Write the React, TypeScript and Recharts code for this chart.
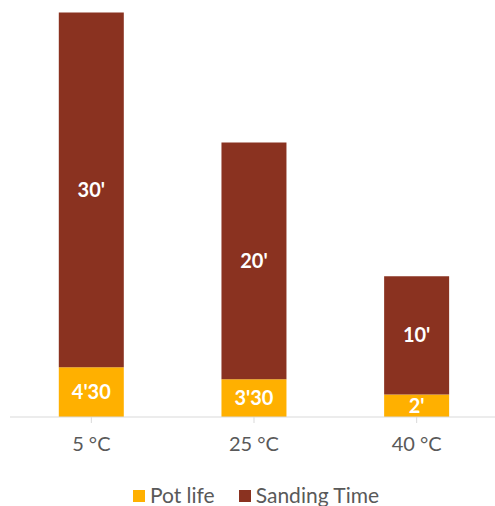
import { BarChart, Bar, XAxis, YAxis, Legend, LabelList } from 'recharts';

const categories = ['5 °C', '25 °C', '40 °C'];
const potLife = [4.2, 3.2, 1.9];
const potLifeLabels = ["4'30", "3'30", "2'"];
const sandingTime = [30, 20, 10];
const sandingLabels = ["30'", "20'", "10'"];

const data = categories.map((name, i) => ({
  name,
  pot: potLife[i],
  potLabel: potLifeLabels[i],
  sanding: sandingTime[i],
  sandingLabel: sandingLabels[i],
}));

const FONT = 'Lato, "Open Sans", sans-serif';
const ORANGE = '#FFB000';
const BROWN = '#8A3220';

const legendItems = [
  { label: 'Pot life', color: ORANGE },
  { label: 'Sanding Time', color: BROWN },
];

function LegendContent() {
  return (
    <div style={{ display: 'flex', justifyContent: 'center', alignItems: 'center', gap: 24, fontFamily: FONT, fontSize: 21, color: '#595959', lineHeight: '22px', paddingLeft: 4 }}>
      {legendItems.map((it) => (
        <div key={it.label} style={{ display: 'flex', alignItems: 'center' }}>
          <span style={{ display: 'inline-block', width: 12, height: 12, background: it.color, marginRight: 5, marginTop: 2 }} />
          <span>{it.label}</span>
        </div>
      ))}
    </div>
  );
}

export default function App() {
  return (
    <div style={{ position: 'absolute', left: 0, top: 0, background: '#fff' }}>
      <BarChart
        width={500}
        height={506}
        data={data}
        margin={{ top: 3, right: 2, left: 10, bottom: 0 }}
        barCategoryGap="30%"
      >
        <XAxis
          dataKey="name"
          height={67}
          stroke="#D9D9D9"
          tickSize={6}
          tickMargin={14}
          tick={{ fill: '#595959', fontSize: 20, fontFamily: FONT }}
        />
        <YAxis hide domain={[0, 35]} />
        <Legend verticalAlign="bottom" height={22} content={<LegendContent />} />
        <Bar dataKey="pot" stackId="a" fill={ORANGE} isAnimationActive={false}>
          <LabelList dataKey="potLabel" position="center" fill="#fff" fontSize={20} fontWeight="bold" fontFamily={FONT} />
        </Bar>
        <Bar dataKey="sanding" stackId="a" fill={BROWN} isAnimationActive={false}>
          <LabelList dataKey="sandingLabel" position="center" fill="#fff" fontSize={20} fontWeight="bold" fontFamily={FONT} />
        </Bar>
      </BarChart>
    </div>
  );
}
